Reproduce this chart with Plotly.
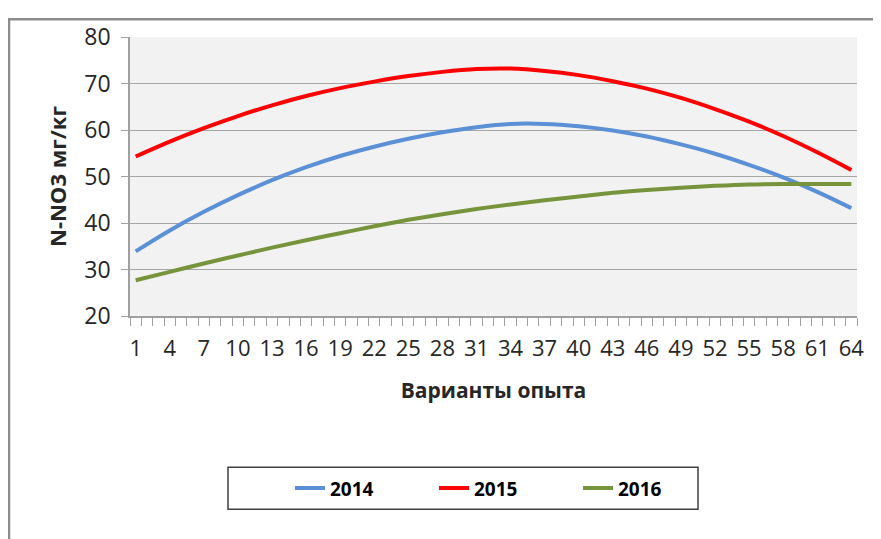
import plotly.graph_objects as go

# Варианты опыта (подписи через каждые 3)
variants = [1, 4, 7, 10, 13, 16, 19, 22, 25, 28, 31, 34, 37, 40, 43, 46, 49, 52, 55, 58, 61, 64]

# N-NO3, мг/кг
y2014 = [33.9, 38.4, 42.4, 46.0, 49.2, 52.0, 54.4, 56.4, 58.1, 59.5, 60.6, 61.3,
         61.3, 60.8, 59.9, 58.6, 56.9, 54.9, 52.5, 49.8, 46.7, 43.2]
y2015 = [54.3, 57.5, 60.4, 63.0, 65.3, 67.3, 69.0, 70.4, 71.6, 72.5, 73.1, 73.2,
         72.7, 71.8, 70.5, 68.9, 66.9, 64.5, 61.8, 58.7, 55.2, 51.4]
y2016 = [27.7, 29.5, 31.3, 33.0, 34.7, 36.3, 37.8, 39.3, 40.7, 41.9, 43.0, 44.0,
         44.9, 45.7, 46.5, 47.1, 47.6, 48.0, 48.3, 48.4, 48.4, 48.4]

series = [('2014', y2014, '#5B8FD6'), ('2015', y2015, '#FF0000'), ('2016', y2016, '#77933C')]

fig = go.Figure()
for name, ys, col in series:
    fig.add_trace(go.Scatter(
        x=variants, y=ys, mode='lines', name=name,
        line=dict(color=col, width=4, shape='spline', smoothing=1.0),
    ))

# область построения в координатах окна (страница сдвинута на 8px)
OFF = 8
L, R, T, B = 130, 857, 29.3, 315.7
W, H = 881 - OFF, 539 - OFF

def px(x):
    return (x - L) / (R - L)

def py(y):
    return (B - y) / (B - T)

# рамка диаграммы
fig.add_shape(type='rect', xref='paper', yref='paper',
              x0=px(9), x1=px(900), y0=py(11), y1=py(570),
              line=dict(color='#8C8C8C', width=2.5), fillcolor='rgba(0,0,0,0)', layer='below')
# рамка легенды
fig.add_shape(type='rect', xref='paper', yref='paper',
              x0=px(228), x1=px(698), y0=py(471), y1=py(514),
              line=dict(color='#404040', width=1.5), fillcolor='white')

font = "'Open Sans', sans-serif"
fig.update_layout(
    width=W, height=H,
    margin=dict(l=L - OFF, r=W - (R - OFF), t=T - OFF, b=H - (B - OFF), pad=0),
    paper_bgcolor='white', plot_bgcolor='#F2F2F2',
    font=dict(family=font, color='#262626'),
    showlegend=True,
    legend=dict(orientation='h', x=px(290), xanchor='left', y=py(492.5), yanchor='middle',
                bgcolor='rgba(0,0,0,0)', borderwidth=0, entrywidth=99,
                font=dict(size=19, color='black', family=font, weight='bold'), itemwidth=30),
    xaxis=dict(
        range=[0.5, 64.5], tickvals=variants, ticktext=[str(v) for v in variants],
        ticks='', showgrid=False, zeroline=False,
        showline=True, linecolor='#A0A0A0', linewidth=1.5,
        tickfont=dict(size=22), ticklabelstandoff=12,
        minor=dict(tick0=0.5, dtick=1, ticks='outside', ticklen=8, tickcolor='#A0A0A0', tickwidth=1.2),
        title=dict(text='<b>Варианты опыта</b>', font=dict(size=21), standoff=22),
    ),
    yaxis=dict(
        range=[20, 80], dtick=10, ticks='outside', ticklen=7, tickcolor='#A0A0A0',
        showgrid=True, gridcolor='#A6A6A6', gridwidth=1.3, zeroline=False,
        showline=True, linecolor='#A0A0A0', linewidth=1.5,
        tickfont=dict(size=23), ticklabelstandoff=6,
        title=dict(text='<b>N-NO3 мг/кг</b>', font=dict(size=22), standoff=12),
    ),
)

fig.write_html("out.html")
